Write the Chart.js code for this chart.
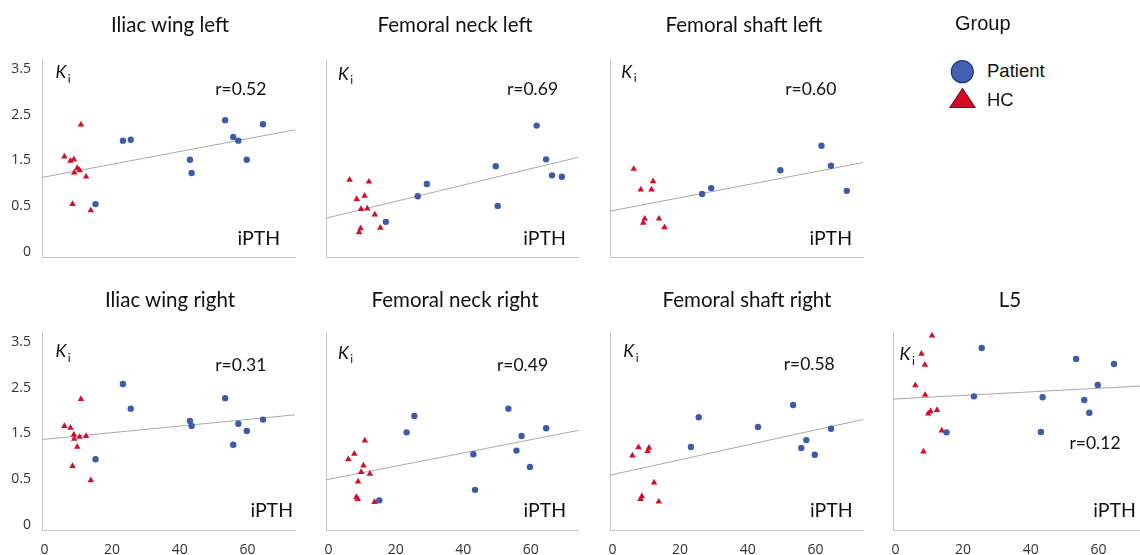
<!DOCTYPE html>
<html>
<head>
<meta charset="utf-8">
<script src="https://cdn.jsdelivr.net/npm/chart.js@4.4.0/dist/chart.umd.min.js"></script>
<style>
  html, body { margin: 0; padding: 0; background: #fff; overflow: hidden; }
  #wrap { position: relative; width: 1140px; height: 555px; overflow: hidden; }
  canvas { position: absolute; }
  .title { position: absolute; font-family: Lato, sans-serif; font-size: 20.5px; color: #111;
           transform: translate(-50%, -50%); white-space: nowrap; }
  .leg { position: absolute; font-family: "Liberation Sans", Arial, sans-serif; font-size: 18.5px; color: #111;
         transform: translateY(-50%); white-space: nowrap; }
</style>
</head>
<body>
<div id="wrap"></div>
<script>
// iPTH (x) shared by all panels
var patientIPTH = [15.1, 23.2, 25.5, 43.0, 43.5, 53.4, 55.8, 57.3, 59.8, 64.6];
var hcIPTH = [5.9, 7.7, 8.3, 8.7, 8.8, 9.7, 10.4, 10.8, 12.3, 13.7];

// Ki per panel (on the plotted grid, ticks 0..4), null = no point
var kiPatIliacL = [1.04, 2.43, 2.45, 2.01, 1.72, 2.88, 2.51, 2.43, 2.01, 2.79];
var kiHcIliacL = [2.08, 1.99, 1.04, 2.02, 1.73, 1.83, 1.78, 2.78, 1.64, 0.90];
var kiPatNeckL = [0.65, 1.21, 1.48, 1.87, 1.00, 2.76, 2.02, 1.67, 1.64, null];
var kiHcNeckL = [1.57, 1.15, 0.42, 0.51, 0.93, 1.22, 0.94, 1.53, 0.81, 0.52];
var kiPatShaftL = [null, 1.26, 1.39, 1.78, null, 2.32, 1.88, null, 1.33, null];
var kiHcShaftL = [1.81, 1.36, 0.63, 0.72, null, null, 1.36, 1.54, 0.72, 0.53];
var kiPatIliacR = [1.43, 3.08, 2.54, 2.27, 2.16, 2.77, 1.75, 2.21, 2.05, 2.30];
var kiHcIliacR = [2.16, 2.12, 1.28, 1.97, 1.88, 1.70, 1.92, 2.75, 1.94, 0.97];
var kiPatNeckR = [0.53, 2.02, 2.38, 1.54, 0.76, 2.54, 1.62, 1.94, 1.26, 2.11];
var kiHcNeckR = [1.43, 1.55, 0.60, 0.56, 0.94, 1.15, 1.29, 1.84, 1.11, 0.49];
var kiPatShaftR = [null, 1.70, 2.35, 2.14, null, 2.62, 1.68, 1.85, 1.53, 2.10];
var kiHcShaftR = [1.51, 1.69, 0.56, 0.62, null, null, 1.61, 1.68, 0.92, 0.50];
var kiPatL5 = [2.02, 2.81, 3.87, 2.03, 2.79, 3.63, 2.73, 2.45, 3.06, 3.52];
var kiHcL5 = [3.05, 3.74, 1.60, 3.50, 2.84, 2.43, 2.48, 4.14, 2.51, 2.06];

var panelTitles = ['Iliac wing left', 'Femoral neck left', 'Femoral shaft left',
                   'Iliac wing right', 'Femoral neck right', 'Femoral shaft right', 'L5'];
var rValues = ['0.52', '0.69', '0.60', '0.31', '0.49', '0.58', '0.12'];
var fitIntercept = [1.633, 0.733, 0.887, 1.869, 0.990, 1.093, 2.752];
var fitSlope = [0.01398, 0.02084, 0.01663, 0.00724, 0.01448, 0.01633, 0.003905];
var xMaxes = [74.05, 63.9, 63.9, 74.05, 74.05, 74.05, 74.05];
var xMins = [-0.72, -0.1, -0.1, -0.72, -0.72, -0.72, -0.72];

var xTicks = [0, 20, 40, 60];
var yTickLabels = ['0', '0.5', '1.5', '2.5', '3.5'];

var BLUE = '#3d5ba8', RED = '#d40f2b', AXIS = '#c6c6c6', FIT = '#a9a9a9';

// layout: chart area boxes and text offsets (from area top-left)
var colL = [42, 326, 610, 893], colR = [295, 578, 863, 1146];
var rowT = [59, 332], rowB = [257, 530];
var cells = [[0, 0], [0, 1], [0, 2], [1, 0], [1, 1], [1, 2], [1, 3]];
var kiPos = [[18.8, 13.7], [17.3, 14.9], [16.7, 12.9], [18.8, 19.2], [17.3, 20.9], [18.7, 19.6], [12, 22.6]];
var rPos = [[198.8, 30.4], [206.5, 30.4], [200.8, 30.4], [198.8, 33.4], [196.5, 33.4], [199.2, 32.6], [202, 111.6]];
var ipthPos = [[216.8, 180], [218.5, 179.5], [220.7, 180], [229.7, 178.4], [218.8, 178.4], [221.3, 178.7], [221.5, 178.4]];
var titlePos = [[170, 24], [455, 24], [744, 24], [170, 299], [455, 299], [747, 299], [1010, 299]];

var patKi = [kiPatIliacL, kiPatNeckL, kiPatShaftL, kiPatIliacR, kiPatNeckR, kiPatShaftR, kiPatL5];
var hcKi = [kiHcIliacL, kiHcNeckL, kiHcShaftL, kiHcIliacR, kiHcNeckR, kiHcShaftR, kiHcL5];

// canvas margins round the chart area (top must exceed tick label padding)
var PL = 44, PT = 24, PR = 6, PB = 30;
var wrap = document.getElementById('wrap');

function pts(xs, ys) {
  var out = [];
  xs.forEach(function (x, i) { if (ys[i] != null) out.push({ x: x, y: ys[i] }); });
  return out;
}

panelTitles.forEach(function (title, p) {
  var row = cells[p][0], col = cells[p][1];
  var w = colR[col] - colL[col] + PL + PR;
  var h = rowB[row] - rowT[row] + PT + PB;
  var cv = document.createElement('canvas');
  cv.width = w; cv.height = h;
  cv.style.left = (colL[col] - PL) + 'px';
  cv.style.top = (rowT[row] - PT) + 'px';
  wrap.appendChild(cv);

  var t = document.createElement('div');
  t.className = 'title';
  t.textContent = title;
  t.style.left = titlePos[p][0] + 'px';
  t.style.top = titlePos[p][1] + 'px';
  wrap.appendChild(t);

  var a = fitIntercept[p], b = fitSlope[p];
  var x0 = xMins[p], x1 = xMaxes[p];

  var annot = {
    id: 'annot',
    afterDatasetsDraw: function (chart) {
      var ca = chart.chartArea, ctx = chart.ctx;
      ctx.save();
      ctx.fillStyle = '#111';
      ctx.textBaseline = 'middle';
      ctx.textAlign = 'center';
      // K_i
      ctx.font = 'italic 17.5px Lato';
      var kx = ca.left + kiPos[p][0], ky = ca.top + kiPos[p][1];
      ctx.fillText('K', kx, ky);
      ctx.font = '12px Lato';
      ctx.textAlign = 'left';
      ctx.fillText('i', kx + 7, ky + 6.5);
      // r
      ctx.textAlign = 'center';
      ctx.font = '17.5px Lato';
      ctx.fillText('r=' + rValues[p], ca.left + rPos[p][0], ca.top + rPos[p][1]);
      // iPTH
      ctx.font = '19.5px Lato';
      ctx.fillText('iPTH', ca.left + ipthPos[p][0], ca.top + ipthPos[p][1]);
      ctx.restore();
    }
  };

  new Chart(cv.getContext('2d'), {
    type: 'scatter',
    data: {
      datasets: [{
        label: 'Patient',
        data: pts(patientIPTH, patKi[p]),
        pointStyle: 'circle',
        pointRadius: 3.2,
        backgroundColor: BLUE,
        borderWidth: 0
      }, {
        label: 'HC',
        data: pts(hcIPTH, hcKi[p]),
        pointStyle: 'triangle',
        pointRadius: 3.8,
        backgroundColor: RED,
        borderWidth: 0
      }, {
        type: 'line',
        label: 'fit',
        data: [{ x: x0, y: a + b * x0 }, { x: x1, y: a + b * x1 }],
        borderColor: FIT,
        borderWidth: 1,
        pointRadius: 0,
        fill: false
      }]
    },
    options: {
      responsive: false,
      animation: false,
      events: [],
      layout: { padding: { top: PT, right: PR, left: 0, bottom: 0 } },
      plugins: { legend: { display: false }, tooltip: { enabled: false } },
      scales: {
        x: {
          type: 'linear', min: x0, max: x1,
          grid: { display: false, drawTicks: false },
          border: { color: AXIS, width: 1 },
          ticks: { display: row === 1, padding: 12, color: '#333', font: { family: 'Open Sans', size: 14 } },
          afterBuildTicks: function (s) { s.ticks = xTicks.map(function (v) { return { value: v }; }); },
          afterFit: function (s) { s.height = PB; }
        },
        y: {
          type: 'linear', min: -0.12, max: 4.22,
          grid: { display: false, drawTicks: false },
          border: { color: AXIS, width: 1 },
          ticks: {
            display: col === 0, padding: 11, color: '#333', font: { family: 'Open Sans', size: 14 },
            callback: function (v) { return yTickLabels[v]; }
          },
          afterBuildTicks: function (s) { s.ticks = yTickLabels.map(function (l, i) { return { value: i }; }); },
          afterFit: function (s) { s.width = PL; }
        }
      }
    },
    plugins: [annot]
  });
});

// Group legend
var leg = document.createElementNS('http://www.w3.org/2000/svg', 'svg');
leg.setAttribute('width', '40'); leg.setAttribute('height', '60');
leg.style.position = 'absolute'; leg.style.left = '942px'; leg.style.top = '54px';
leg.innerHTML = '<circle cx="20.3" cy="17.7" r="11" fill="#4361b0" stroke="#22367a" stroke-width="1.2"/>' +
  '<polygon points="20.5,34.5 8,53.5 33,53.5" fill="#d10a26" stroke="#8c0a1a" stroke-width="1.2"/>';
wrap.appendChild(leg);
[['Group', 955, 23, 20], ['Patient', 987, 71, 18.5], ['HC', 987, 100, 18.5]].forEach(function (d) {
  var el = document.createElement('div');
  el.className = 'leg';
  el.textContent = d[0];
  el.style.left = d[1] + 'px';
  el.style.top = d[2] + 'px';
  el.style.fontSize = d[3] + 'px';
  wrap.appendChild(el);
});
</script>
</body>
</html>
